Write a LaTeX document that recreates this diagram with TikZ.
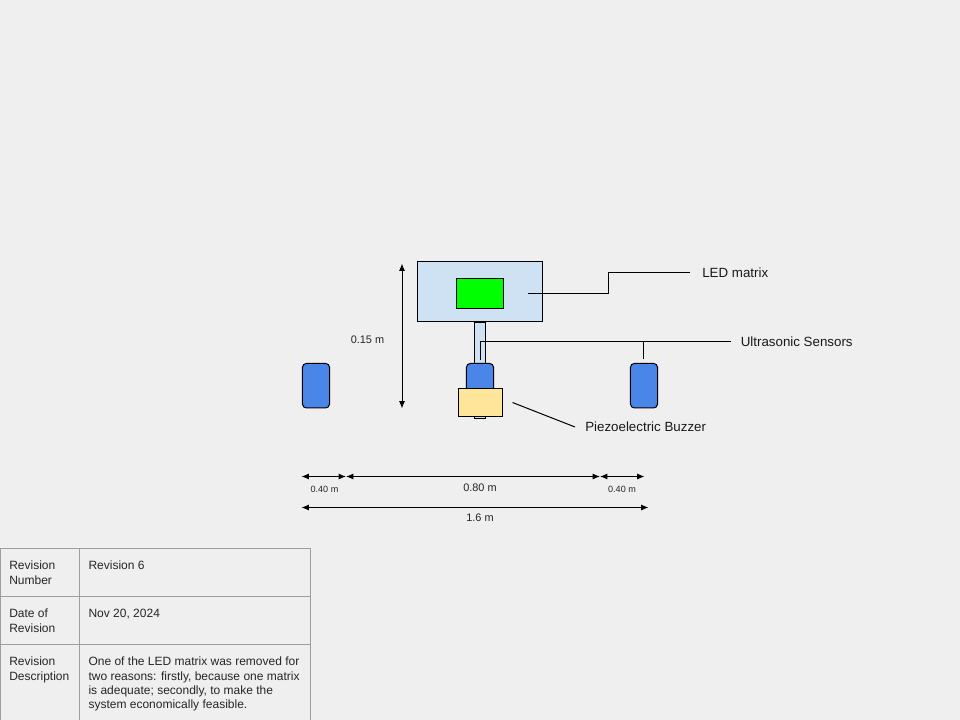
\documentclass[tikz,border=0pt]{standalone}
\usepackage{fontspec}
\usetikzlibrary{arrows.meta}
\setmainfont{Liberation Sans}
\definecolor{pagebg}{HTML}{EFEFEF}
\definecolor{panelblue}{HTML}{CFE2F3}
\definecolor{sensorblue}{HTML}{4A86E8}
\definecolor{buzzeryellow}{HTML}{FFE599}
\definecolor{tablegray}{HTML}{9E9E9E}
\begin{document}
\begin{tikzpicture}
[x=0.75pt,y=-0.75pt,
box/.style={rectangle,draw=black,line width=0.75pt,inner sep=0pt,outer sep=0pt},
panel/.style={box,fill=panelblue,minimum width=93.75pt,minimum height=45pt},
matrixbox/.style={box,fill=green,minimum width=35.25pt,minimum height=22.5pt},
pole/.style={box,fill=panelblue,minimum width=8.25pt,minimum height=72pt},
sensor/.style={box,fill=sensorblue,rounded corners=3pt,minimum width=20.4pt,minimum height=33.4pt},
buzzer/.style={box,fill=buzzeryellow,minimum width=33pt,minimum height=21pt},
wire/.style={draw=black,line width=0.75pt},
dim/.style={draw=black,line width=0.75pt,{Latex[length=5.5pt,width=4.5pt]}-{Latex[length=5.5pt,width=4.5pt]}},
calltext/.style={inner sep=0pt,font=\fontsize{10pt}{12pt}\selectfont,text=black!90},
dimtext/.style={inner sep=0pt,font=\fontsize{8.2pt}{10pt}\selectfont,text=black!85},
smalltext/.style={inner sep=0pt,font=\fontsize{6.8pt}{8pt}\selectfont,text=black!85},
cell/.style={rectangle,draw=tablegray,line width=0.75pt,inner sep=0pt,outer sep=0pt,anchor=north west},
celltext/.style={inner sep=0pt,anchor=north west,align=left,font=\fontsize{9pt}{10.75pt}\selectfont,text=black!85}]
\fill[pagebg] (0,0) rectangle (960,720);
\useasboundingbox (0,0) rectangle (960,720);

% mast and head
\node (mast) at (480,370) [pole] {};
\node (panel) at (480,291.5) [panel] {};
\node (matrix) at (480,293.5) [matrixbox] {};

% sensors and buzzer
\node (left) at (316,385.7) [sensor] {};
\node (centre) at (480,385.7) [sensor] {};
\node (right) at (644,385.7) [sensor] {};
\node (buzz) at (480.5,402.5) [buzzer] {};

% callouts
\node (ledtext) at (702,273) [calltext,anchor=west] {LED matrix};
\node (sonictext) at (740.5,342) [calltext,anchor=west] {Ultrasonic Sensors};
\node (buzztext) at (585,426.5) [calltext,anchor=west] {Piezoelectric Buzzer};
\coordinate (ledend) at (528,293.7);
\coordinate (ledknee) at (608.3,293.7);
\coordinate (ledtop) at (608.3,272.5);
\coordinate (ledtip) at (690,272.5);
\coordinate (midend) at (480.5,360);
\coordinate (midknee) at (480.5,341.5);
\coordinate (sonictip) at (731,341.5);
\coordinate (rightknee) at (643.5,341.5);
\coordinate (rightend) at (643.5,359);
\coordinate (buzzend) at (512.5,402.5);
\coordinate (buzztip) at (575,427);
\draw[wire] (ledend) -- (ledknee) -- (ledtop) -- (ledtip);
\draw[wire] (midend) -- (midknee) -- (sonictip);
\draw[wire] (rightknee) -- (rightend);
\draw[wire] (buzzend) -- (buzztip);

% dimensions
\coordinate (vtop) at (402,263.5);
\coordinate (vbot) at (402,408.5);
\coordinate (a) at (301.5,476.5);
\coordinate (b) at (346,476.5);
\coordinate (c) at (600,476.5);
\coordinate (d) at (644.5,476.5);
\coordinate (e) at (301.5,507.5);
\coordinate (f) at (648.5,507.5);
\draw[dim] (vtop) -- (vbot);
\draw[dim] (a) -- (b);
\draw[dim] (b) -- (c);
\draw[dim] (c) -- (d);
\draw[dim] (e) -- (f);
\node (high) at (367.5,339.5) [dimtext] {0.15 m};
\node (wa) at (324.5,489.5) [smalltext] {0.40 m};
\node (wb) at (480,487.5) [dimtext] {0.80 m};
\node (wc) at (622,489.5) [smalltext] {0.40 m};
\node (wd) at (480,517.5) [dimtext] {1.6 m};

% revision table
\node (r1a) at (0.5,548.5) [cell,minimum width=59.25pt,minimum height=36pt] {};
\node (r1b) at (79.5,548.5) [cell,minimum width=173.25pt,minimum height=36pt] {};
\node (r2a) at (0.5,596.5) [cell,minimum width=59.25pt,minimum height=36pt] {};
\node (r2b) at (79.5,596.5) [cell,minimum width=173.25pt,minimum height=36pt] {};
\node (r3a) at (0.5,644.5) [cell,minimum width=59.25pt,minimum height=60pt] {};
\node (r3b) at (79.5,644.5) [cell,minimum width=173.25pt,minimum height=60pt] {};
\node (t1a) at (9,561) [celltext] {Revision\\Number};
\node (t1b) at (88.3,561) [celltext] {Revision 6};
\node (t2a) at (9,609) [celltext] {Date of\\Revision};
\node (t2b) at (88.3,609) [celltext] {Nov 20, 2024};
\node (t3a) at (9,657) [celltext] {Revision\\Description};
\node (t3b) at (88.3,657) [celltext] {One of the LED matrix was removed for\\two reasons: firstly, because one matrix\\is adequate; secondly, to make the\\system economically feasible.};

\end{tikzpicture}
\end{document}
